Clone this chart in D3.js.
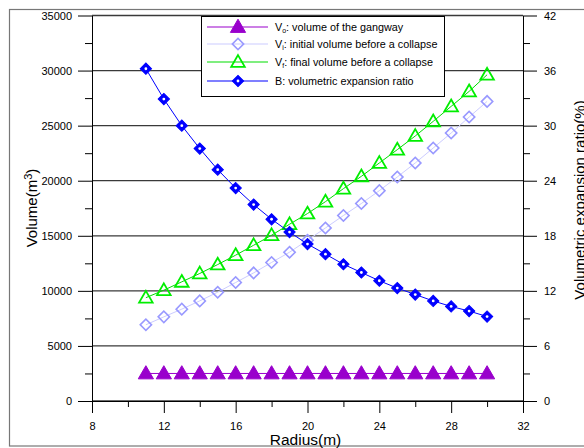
<!DOCTYPE html>
<html>
<head>
<meta charset="utf-8">
<script src="https://cdn.jsdelivr.net/npm/d3@7"></script>
<style>
  body { margin: 0; background: #fff; }
  svg text { font-family: "Liberation Sans", Arial, sans-serif; }
</style>
</head>
<body>
<div id="chart"></div>
<script>
// radius (m)
var radius = [11, 12, 13, 14, 15, 16, 17, 18, 19, 20, 21, 22, 23, 24, 25, 26, 27, 28, 29, 30];
// Vo: volume of the gangway (m3)
var vGangway = [2500, 2500, 2500, 2500, 2500, 2500, 2500, 2500, 2500, 2500,
                2500, 2500, 2500, 2500, 2500, 2500, 2500, 2500, 2500, 2500];
// Vi: initial volume before a collapse (m3)
var vInitial = [6920, 7640, 8340, 9090, 9880, 10760, 11630, 12580, 13510, 14600,
                15710, 16840, 17930, 19100, 20340, 21610, 22970, 24330, 25780, 27200];
// Vf: final volume before a collapse (m3)
var vFinal = [9380, 10060, 10820, 11580, 12390, 13240, 14140, 15050, 16050, 17020,
              18100, 19280, 20400, 21610, 22820, 24060, 25390, 26750, 28110, 29620];
// B: volumetric expansion ratio (%)
var ratioB = [36.2, 32.9, 30.0, 27.5, 25.2, 23.2, 21.4, 19.8, 18.4, 17.1,
              16.0, 14.9, 14.0, 13.1, 12.3, 11.6, 10.9, 10.3, 9.8, 9.2];

var xTicks = [8, 12, 16, 20, 24, 28, 32];
var yLeftTicks = [0, 5000, 10000, 15000, 20000, 25000, 30000, 35000];
var yRightTicks = [0, 6, 12, 18, 24, 30, 36, 42];

var width = 584, height = 448;
var plotL = 92, plotR = 523, plotT = 15.5, plotB = 401;

var svg = d3.select("#chart").append("svg")
    .attr("width", width)
    .attr("height", height);

// outer frame
svg.append("rect")
    .attr("x", 9.5).attr("y", 9.5)
    .attr("width", 620).attr("height", 436.5)
    .style("fill", "none")
    .style("stroke", "#777")
    .style("stroke-width", 1.2);

var xScale = d3.scaleLinear().domain([8, 32]).range([plotL, plotR]);
var yLeft = d3.scaleLinear().domain([0, 35000]).range([plotB, plotT]);
var yRight = d3.scaleLinear().domain([0, 42]).range([plotB, plotT]);

// gridlines
svg.append("g").selectAll("line")
    .data(yLeftTicks)
  .enter().append("line")
    .attr("x1", plotL).attr("x2", plotR)
    .attr("y1", function(d) { return yLeft(d); })
    .attr("y2", function(d) { return yLeft(d); })
    .style("stroke", "#3a3a3a")
    .style("stroke-width", 1.3);

function styleAxis(g) {
  g.selectAll("text")
    .style("font-size", "11px")
    .style("fill", "#000");
  g.selectAll("line").style("stroke", "#000");
  g.selectAll("path").style("stroke", "#000");
}

function minorValues(major) {
  var out = [];
  for (var i = 0; i < major.length - 1; i++) out.push((major[i] + major[i + 1]) / 2);
  return out;
}

var fmt = d3.format("d");

// left axis
svg.append("g")
    .attr("transform", "translate(" + plotL + ",0)")
    .call(d3.axisLeft(yLeft).tickValues(yLeftTicks).tickFormat(fmt)
      .tickSize(14).tickSizeOuter(0).tickPadding(6))
    .call(styleAxis);
svg.append("g")
    .attr("transform", "translate(" + plotL + ",0)")
    .call(d3.axisLeft(yLeft).tickValues(minorValues(yLeftTicks)).tickSize(7).tickFormat(""))
    .call(styleAxis)
    .select(".domain").remove();

// right axis
svg.append("g")
    .attr("transform", "translate(" + plotR + ",0)")
    .call(d3.axisRight(yRight).tickValues(yRightTicks).tickFormat(fmt)
      .tickSize(14).tickSizeOuter(0).tickPadding(7))
    .call(styleAxis);
svg.append("g")
    .attr("transform", "translate(" + plotR + ",0)")
    .call(d3.axisRight(yRight).tickValues(minorValues(yRightTicks)).tickSize(7).tickFormat(""))
    .call(styleAxis)
    .select(".domain").remove();

// bottom axis
svg.append("g")
    .attr("transform", "translate(0," + plotB + ")")
    .call(d3.axisBottom(xScale).tickValues(xTicks).tickFormat(fmt)
      .tickSize(12).tickSizeOuter(0).tickPadding(9))
    .call(styleAxis);
svg.append("g")
    .attr("transform", "translate(0," + plotB + ")")
    .call(d3.axisBottom(xScale).tickValues(minorValues(xTicks)).tickSize(6).tickFormat(""))
    .call(styleAxis)
    .select(".domain").remove();

// axis titles
var yt = svg.append("text")
    .attr("transform", "translate(37,208) rotate(-90)")
    .attr("text-anchor", "middle")
    .style("font-size", "15px");
yt.append("tspan").text("Volume(m");
yt.append("tspan").attr("dy", -5).style("font-size", "11px").text("3");
yt.append("tspan").attr("dy", 5).text(")");

svg.append("text")
    .attr("x", (xScale(8) + xScale(32)) / 2 - 2)
    .attr("y", 445)
    .attr("text-anchor", "middle")
    .style("font-size", "15.5px")
    .text("Radius(m)");

// right title sits against the edge of the picture, as in the original
svg.append("text")
    .attr("transform", "translate(585,200) rotate(-90)")
    .attr("text-anchor", "middle")
    .style("font-size", "15px")
    .text("Volumetric expansion ratio(%)");

// series
var series = [
  { key: "o", label: ": volume of the gangway", values: vGangway, y: yLeft,
    line: "#9900cc", marker: "triangle", fill: "#9900cc", stroke: "#9900cc", size: 100 },
  { key: "i", label: ": initial volume before a collapse", values: vInitial, y: yLeft,
    line: "#ccccff", marker: "diamond", fill: "none", stroke: "#9999ff", size: 64 },
  { key: "f", label: ": final volume before a collapse", values: vFinal, y: yLeft,
    line: "#00dd00", marker: "triangle", fill: "none", stroke: "#00ee00", size: 80 },
  { key: "B", label: "B: volumetric expansion ratio", values: ratioB, y: yRight,
    line: "#0000ff", marker: "diamond", fill: "#0000ff", stroke: "#0000ff", size: 64 }
];

function drawMarker(g, s) {
  if (s.marker === "triangle") {
    g.append("path")
      .attr("d", d3.symbol().type(d3.symbolTriangle).size(s.size)())
      .attr("transform", "translate(0,1)")
      .style("fill", s.fill)
      .style("stroke", s.stroke)
      .style("stroke-width", s.fill === "none" ? 1.8 : 1);
  } else {
    g.append("path")
      .attr("d", d3.symbol().type(d3.symbolSquare).size(s.size)())
      .attr("transform", "rotate(45)")
      .style("fill", s.fill)
      .style("stroke", s.stroke)
      .style("stroke-width", s.fill === "none" ? 1.6 : 1);
    if (s.fill !== "none") {
      g.append("circle").attr("r", 1.4).style("fill", "#fff");
    }
  }
}

series.forEach(function(s) {
  var pts = radius.map(function(r, i) { return [xScale(r), s.y(s.values[i])]; });
  svg.append("path")
    .attr("d", d3.line()(pts))
    .style("fill", "none")
    .style("stroke", s.line)
    .style("stroke-width", 1);
  pts.forEach(function(p) {
    drawMarker(svg.append("g").attr("transform", "translate(" + p[0] + "," + p[1] + ")"), s);
  });
});

// legend
var legend = svg.append("g").attr("transform", "translate(201,16)");
legend.append("rect")
    .attr("x", 0.5).attr("y", 0.5)
    .attr("width", 243).attr("height", 80)
    .style("fill", "#fff")
    .style("stroke", "#000");

var rowY = [11, 28, 46, 65];
series.forEach(function(s, i) {
  var row = legend.append("g").attr("transform", "translate(0," + rowY[i] + ")");
  row.append("line")
    .attr("x1", 6).attr("x2", 67)
    .style("stroke", s.line)
    .style("stroke-width", 1.2);
  drawMarker(row.append("g").attr("transform", "translate(37,0)"), s);
  var t = row.append("text")
    .attr("x", 74).attr("y", 4)
    .style("font-size", "10.8px");
  if (s.key === "B") {
    t.text(s.label);
  } else {
    t.append("tspan").text("V");
    t.append("tspan").attr("dy", 2).style("font-size", "7px").text(s.key);
    t.append("tspan").attr("dy", -2).text(s.label);
  }
});
</script>
</body>
</html>
